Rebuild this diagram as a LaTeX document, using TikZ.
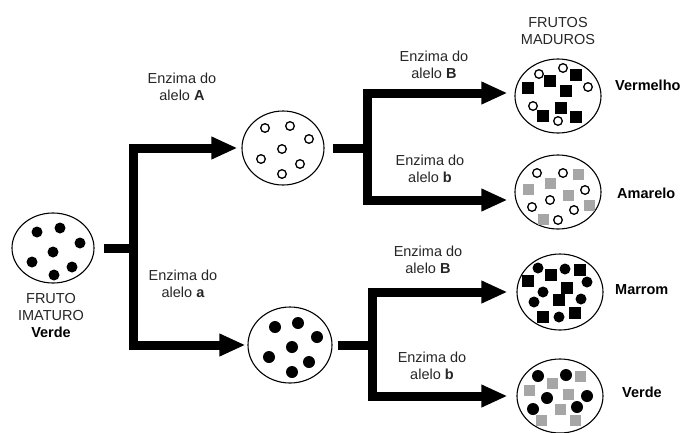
\documentclass[tikz,border=0pt]{standalone}
\usepackage{fontspec}
\setmainfont{Liberation Sans}
\usetikzlibrary{arrows.meta,shapes.geometric,calc}
\begin{document}
\begin{tikzpicture}[x=1pt,y=-1pt,
  fruit/.style={ellipse, draw, line width=1.1pt, fill=white, inner sep=0pt},
  flow/.style={line width=9pt, line join=miter},
  flowarr/.style={flow, -{Triangle[length=26pt,width=21pt]}},
  lbl/.style={align=center, font=\fontsize{14.5}{17}\selectfont, text=black!85, inner sep=0pt},
  blbl/.style={anchor=west, font=\fontsize{14.5}{17}\selectfont\bfseries, inner sep=0pt},
  ring/.style={line width=1.3pt, fill=white},
  graysq/.style={fill=black!35},
]
\useasboundingbox (0,0) rectangle (686,432);

% fruit circles
\node[fruit, minimum width=82pt, minimum height=70pt] (imat) at (53,248) {};
\node[fruit, minimum width=82pt, minimum height=74pt] (mid1) at (283,148) {};
\node[fruit, minimum width=84pt, minimum height=76pt] (mid2) at (290,345) {};
\node[fruit, minimum width=86pt, minimum height=74pt] (verm) at (558,96) {};
\node[fruit, minimum width=86pt, minimum height=74pt] (amar) at (558,192) {};
\node[fruit, minimum width=86pt, minimum height=76pt] (marr) at (560,292) {};
\node[fruit, minimum width=86pt, minimum height=74pt] (verd) at (560,396) {};

% contents
\begin{scope}[shift={(imat.center)}]
  \foreach \x/\y in {-16/-16,7/-20,27/-5,0/4,-21/14,19/19,1/27}
    \fill (\x,\y) circle[radius=5.5pt];
\end{scope}
\begin{scope}[shift={(mid1.center)}]
  \foreach \x/\y in {-18/-20,7/-22,26/-9,-1/1,-22/11,17/16,-1/26}
    \draw[ring] (\x,\y) circle[radius=4.3pt];
\end{scope}
\begin{scope}[shift={(mid2.center)}]
  \foreach \x/\y in {-15/-18,8/-22,27/-8,2/2,-21/12,19/17,2/27}
    \fill (\x,\y) circle[radius=6pt];
\end{scope}
\begin{scope}[shift={(verm.center)}]
  \foreach \x/\y in {-30/-8,-8/-15,18/-21,8/-5,3/12,-15/20,18/21}
    \fill[shift={(\x,\y)}] (-6pt,-6pt) rectangle (6pt,6pt);
  \foreach \x/\y in {-19/-22,5/-28,30/-9,-25/10,0/25}
    \draw[ring] (\x,\y) circle[radius=4.3pt];
\end{scope}
\begin{scope}[shift={(amar.center)}]
  \foreach \x/\y in {20/-18,-30/-3,-8/-9,10/3,31/13,-15/27}
    \fill[graysq, shift={(\x,\y)}] (-5.5pt,-5.5pt) rectangle (5.5pt,5.5pt);
  \foreach \x/\y in {-21/-19,5/-19,27/-2,-8/8,-26/15,16/18,0/28}
    \draw[ring] (\x,\y) circle[radius=4.3pt];
\end{scope}
\begin{scope}[shift={(marr.center)}]
  \foreach \x/\y in {-32/-11,-9/-17,20/-22,7/-4,-1/8,-17/25,15/21}
    \fill[shift={(\x,\y)}] (-6pt,-6pt) rectangle (6pt,6pt);
  \foreach \x/\y in {-22/-24,5/-23,27/-10,-17/0,-26/10,21/7,-1/25}
    \fill (\x,\y) circle[radius=5.5pt];
\end{scope}
\begin{scope}[shift={(verd.center)}]
  \foreach \x/\y in {20/-20,-8/-13,-31/-6,8/-2,0/13,-19/24,15/24}
    \fill[graysq, shift={(\x,\y)}] (-5.5pt,-5.5pt) rectangle (5.5pt,5.5pt);
  \foreach \x/\y in {-22/-20,6/-21,-13/2,27/0,-27/13,17/11}
    \fill (\x,\y) circle[radius=6pt];
\end{scope}

% junctions
\coordinate (j1) at (133,248);
\coordinate (j2) at (367,148);
\coordinate (j3) at (372,345);

% connectors
\draw[flow] ([xshift=9pt]imat.east) -- (j1);
\draw[flowarr, shorten >=4pt] (j1) |- (mid1.west);
\draw[flowarr, shorten >=2pt] (j1) |- (mid2.west);

\draw[flow] ([xshift=8pt]mid1.east) -- (j2);
\draw[flowarr, shorten >=7pt] (j2) |- ([yshift=3pt]verm.west);
\draw[flowarr, shorten >=7pt] (j2) |- ([yshift=-8pt]amar.west);

\draw[flow] ([xshift=5pt]mid2.east) -- (j3);
\draw[flowarr, shorten >=9pt] (j3) |- (marr.west);
\draw[flowarr, shorten >=9pt] (j3) |- (verd.west);

% labels
\node[lbl] (tA) at (182,86.5) {Enzima do\\alelo \textbf{A}};
\node[lbl] (ta) at (183,283.5) {Enzima do\\alelo \textbf{a}};
\node[lbl] (tB1) at (434,65) {Enzima do\\alelo \textbf{B}};
\node[lbl] (tb1) at (430,168.5) {Enzima do\\alelo \textbf{b}};
\node[lbl] (tB2) at (428,259.5) {Enzima do\\alelo \textbf{B}};
\node[lbl] (tb2) at (432,365.5) {Enzima do\\alelo \textbf{b}};
\node[lbl] (timat) at (51,315.5) {FRUTO\\IMATURO\\\textcolor{black}{\textbf{Verde}}};
\node[lbl] (tmad) at (558,31) {FRUTOS\\MADUROS};

\node[blbl] (lverm) at (615,85) {Vermelho};
\node[blbl] (lamar) at (617,193) {Amarelo};
\node[blbl] (lmarr) at (615,290) {Marrom};
\node[blbl] (lverd) at (622,392) {Verde};
\end{tikzpicture}
\end{document}
